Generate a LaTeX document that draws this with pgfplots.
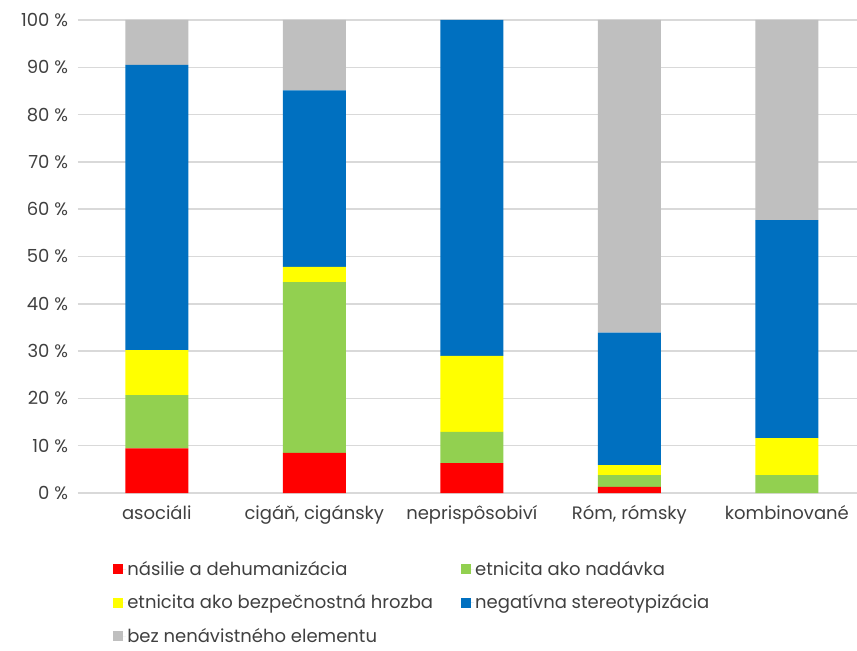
\documentclass[border=0pt]{standalone}
\usepackage{pgfplots}
\pgfplotsset{compat=1.18}
\usepackage{fontspec}
\setmainfont{Poppins}
\definecolor{cRed}{HTML}{FF0000}
\definecolor{cGreen}{HTML}{92D050}
\definecolor{cYellow}{HTML}{FFFF00}
\definecolor{cBlue}{HTML}{0070C0}
\definecolor{cGray}{HTML}{BFBFBF}
\definecolor{grid}{HTML}{D9D9D9}
\definecolor{txt}{HTML}{404040}
\begin{document}
\begin{tikzpicture}[x=1pt,y=1pt]
\useasboundingbox (-58.5,-117.75) rectangle (584.25,369.75);
\begin{axis}[
  scale only axis, width=584.25pt, height=354.75pt,
  ybar stacked, bar width=47.25pt,
  xmin=-0.5, xmax=4.445, ymin=0, ymax=100,
  xtick={0,1,2,3,4},
  xticklabels={asociáli, {cigáň, cigánsky}, neprispôsobiví, {Róm, rómsky}, kombinované},
  ytick={0,10,...,100},
  yticklabels={0 \%,10 \%,20 \%,30 \%,40 \%,50 \%,60 \%,70 \%,80 \%,90 \%,100 \%},
  /pgf/number format/assume math mode=true,
  tick style={draw=none},
  axis x line*=bottom, axis y line*=left,
  x axis line style={draw=grid, line width=1.1pt},
  y axis line style={draw=none},
  ymajorgrids, grid style={draw=grid, line width=1.1pt},
  ticklabel style={font=\fontsize{13.5}{16}\selectfont, text=txt},
  yticklabel style={xshift=-4pt},
  xticklabel style={yshift=-6pt},
  legend columns=2,
  legend cell align=left,
  legend style={at={(0.045,-0.141)}, anchor=north west, draw=none, inner sep=0pt,
    font=\fontsize{13.5}{16}\selectfont, text=txt, row sep=11pt,
    nodes={inner sep=1pt},
    /tikz/every even column/.append style={column sep=20pt}},
  legend image code/.code={\path (0pt,0pt) -- (9.5pt,0pt);
    \fill[#1] (0pt,-3.75pt) rectangle (7.5pt,3.75pt);},
]
\addplot[fill=cRed, draw=none] coordinates {(0,9.45) (1,8.5) (2,6.3) (3,1.3) (4,0)};
\addplot[fill=cGreen, draw=none] coordinates {(0,11.25) (1,36.1) (2,6.6) (3,2.5) (4,3.8)};
\addplot[fill=cYellow, draw=none] coordinates {(0,9.5) (1,3.2) (2,16.1) (3,2.1) (4,7.8)};
\addplot[fill=cBlue, draw=none] coordinates {(0,60.3) (1,37.3) (2,71.0) (3,28.0) (4,46.1)};
\addplot[fill=cGray, draw=none] coordinates {(0,9.5) (1,14.9) (2,0) (3,66.1) (4,42.3)};
\legend{násilie a dehumanizácia, etnicita ako nadávka, etnicita ako bezpečnostná hrozba, negatívna stereotypizácia, bez nenávistného elementu}
\end{axis}
\end{tikzpicture}
\end{document}
